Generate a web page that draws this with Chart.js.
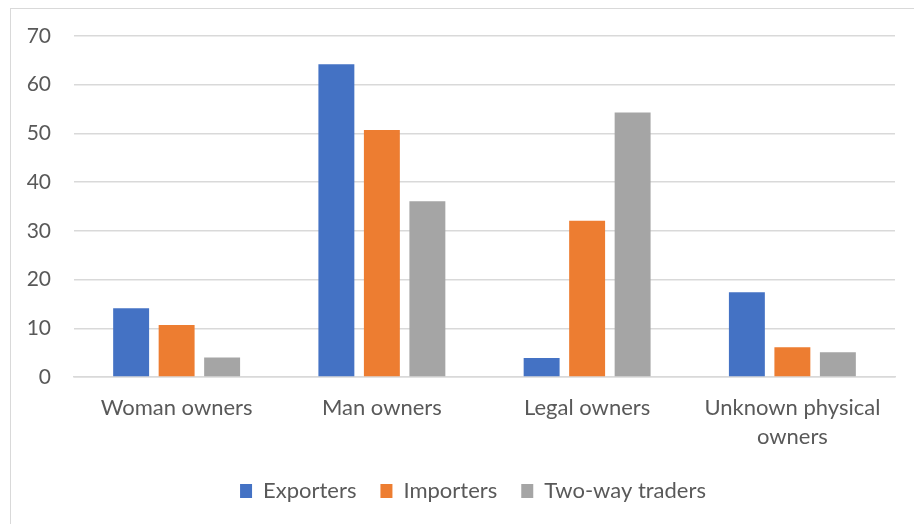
<!DOCTYPE html>
<html lang="en">
<head>
    <meta charset="UTF-8">
    <title>Owners by trader type</title>
    <script src="https://cdn.jsdelivr.net/npm/chart.js@4.4.1/dist/chart.umd.js"></script>
    <style>
        html, body { margin: 0; padding: 0; background: #fff; }
        #wrap { position: relative; width: 914px; height: 524px; overflow: hidden; }
        #frame { position: absolute; left: 10px; top: 8px; width: 940px; height: 560px; border: 1px solid #D9D9D9; box-sizing: border-box; }
        #chart { position: absolute; left: 0; top: 0; }
    </style>
</head>
<body>
    <div id="wrap">
        <div id="frame"></div>
        <canvas id="chart" width="914" height="524"></canvas>
    </div>
    <script>
        // values
        const categories = ['Woman owners', 'Man owners', 'Legal owners', ['Unknown physical', 'owners']];
        const exporters = [14.1, 64.2, 3.9, 17.4];
        const importers = [10.7, 50.7, 32.1, 6.1];
        const twoWay = [4.0, 36.1, 54.3, 5.1];
        const yTicks = [0, 10, 20, 30, 40, 50, 60, 70];

        const textColor = '#595959';
        const gridColor = '#D9D9D9';
        Chart.defaults.font.family = 'Lato, "Open Sans", sans-serif';

        // centre the legend under the plot area rather than the whole canvas
        const legendShift = {
            id: 'legendShift',
            afterLayout(chart) {
                if (chart.legend) chart.legend.left += 51;
            }
        };

        const chart = new Chart(document.getElementById('chart'), {
            type: 'bar',
            data: {
                labels: categories,
                datasets: [
                    { label: 'Exporters', data: exporters, backgroundColor: '#4472C4' },
                    { label: 'Importers', data: importers, backgroundColor: '#ED7D31' },
                    { label: 'Two-way traders', data: twoWay, backgroundColor: '#A5A5A5' }
                ]
            },
            plugins: [legendShift],
            options: {
                responsive: false,
                animation: false,
                devicePixelRatio: 1,
                layout: { padding: { top: 36, right: 19, left: 0, bottom: 12 } },
                datasets: {
                    bar: { categoryPercentage: 0.665, barPercentage: 0.79 }
                },
                scales: {
                    x: {
                        grid: { display: false },
                        border: { color: gridColor, width: 1.5 },
                        ticks: {
                            color: textColor,
                            font: { size: 22, lineHeight: 1.32 },
                            padding: 8,
                            maxRotation: 0,
                            autoSkip: false
                        },
                        afterFit: (scale) => { scale.height = 79; }
                    },
                    y: {
                        min: 0,
                        max: 70,
                        afterBuildTicks: (scale) => { scale.ticks = yTicks.map(v => ({ value: v })); },
                        grid: { color: gridColor, lineWidth: 1.5, drawTicks: false },
                        border: { display: false },
                        ticks: {
                            color: textColor,
                            font: { size: 21 },
                            padding: 23
                        },
                        afterFit: (scale) => { scale.width = 74; }
                    }
                },
                plugins: {
                    legend: {
                        position: 'bottom',
                        labels: {
                            color: textColor,
                            font: { size: 22 },
                            boxWidth: 12,
                            boxHeight: 14,
                            padding: 24
                        }
                    },
                    tooltip: { enabled: false }
                }
            }
        });
    </script>
</body>
</html>
